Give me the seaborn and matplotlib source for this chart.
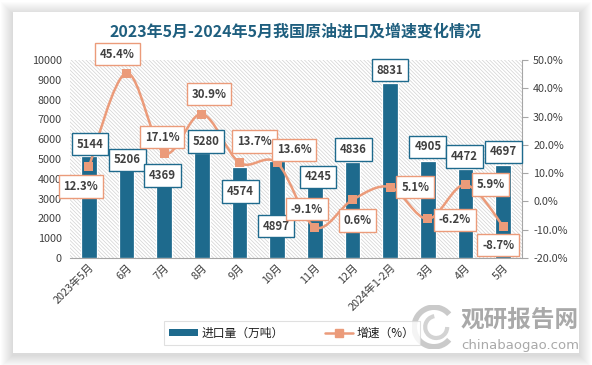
import numpy as np
import pandas as pd
import matplotlib
matplotlib.use("Agg")
import matplotlib.pyplot as plt
from matplotlib.patches import Rectangle, PathPatch, Patch, Arc
from matplotlib.path import Path
from matplotlib.lines import Line2D
import seaborn as sns

# ---------------- data ----------------
categories = ["2023年5月", "6月", "7月", "8月", "9月", "10月", "11月", "12月",
              "2024年1-2月", "3月", "4月", "5月"]
import_volume = [5144, 5206, 4369, 5280, 4574, 4897, 4245, 4836, 8831, 4905, 4472, 4697]
growth_rate = [12.3, 45.4, 17.1, 30.9, 13.7, 13.6, -9.1, 0.6, 5.1, -6.2, 5.9, -8.7]

title = "2023年5月-2024年5月我国原油进口及增速变化情况"
bar_name = "进口量（万吨）"
line_name = "增速（%）"

# label placement (pixel offsets, layout only)
bar_lab_dx = [1, 1, -2, 4, 1, -1, 3, 1, 0, 0, -1, 0]
bar_lab_dy = [12, -5, -4, 12, -24, -65, -3, 13, 13, 14, 13, 13]
pct_lab_dx = [-8, -9, -2, 7, 15, 17, -8, 5, 25, 27, 25, -5]
pct_lab_dy = [-20, 19, 16, 20, 21, 13, 18, -21, 0, -1, 0, -19]

BAR_C = "#1e6a8d"
LINE_C = "#eb9b7a"
TXT_C = "#404040"

sns.set_style("white")
plt.rcParams["font.family"] = ["Noto Sans CJK SC", "DejaVu Sans"]
plt.rcParams["hatch.linewidth"] = 0.5
plt.rcParams["axes.unicode_minus"] = False

W, H = 592, 365
fig = plt.figure(figsize=(W / 100, H / 100), dpi=100, facecolor="white")

# card with soft shadow
cx0, cy0, cx1, cy1 = 13, 12, 579, 353
for k in range(12, 0, -1):
    fig.patches.append(Rectangle(((cx0 - k) / W, 1 - (cy1 + k + 2) / H),
                                 (cx1 - cx0 + 2 * k) / W, (cy1 - cy0 + 2 * k) / H,
                                 transform=fig.transFigure, facecolor="#808080",
                                 alpha=0.022, lw=0, zorder=-20))
fig.patches.append(Rectangle((cx0 / W, 1 - cy1 / H), (cx1 - cx0) / W, (cy1 - cy0) / H,
                             transform=fig.transFigure, facecolor="white", lw=0, zorder=-10))

ax = fig.add_axes([70 / W, 1 - 258 / H, 452 / W, 198 / H])
ax.patch.set_visible(False)
ax.add_patch(Rectangle((0, 0), 1, 1, transform=ax.transAxes, facecolor="white",
                       edgecolor="#d2d2d2", hatch="\\" * 9, lw=0, zorder=0))

df = pd.DataFrame({"cat": categories, "vol": import_volume, "rate": growth_rate})
sns.barplot(data=df, x="cat", y="vol", color=BAR_C, width=0.42, edgecolor="white",
            linewidth=0.9, saturation=1, ax=ax, zorder=2)
ax.set_ylim(0, 10000)
ax.set_yticks(np.arange(0, 10001, 1000))
ax.set_xlim(-0.5, len(categories) - 0.5)
ax.set_xlabel("")
ax.set_ylabel("")
for s in ["top", "left", "right"]:
    ax.spines[s].set_visible(False)
ax.spines["bottom"].set_color("#a6a6a6")
ax.tick_params(axis="y", length=0, labelsize=7.8, labelcolor=TXT_C, pad=6)
ax.tick_params(axis="x", length=0, labelsize=7.8, labelcolor=TXT_C, pad=3)
plt.setp(ax.get_xticklabels(), rotation=45, ha="right", rotation_mode="anchor")

ax2 = ax.twinx()
ax2.set_ylim(-20, 50)
ax2.set_yticks(np.arange(-20, 51, 10))
ax2.yaxis.set_major_formatter(matplotlib.ticker.FuncFormatter(lambda v, p: f"{v:.1f}%"))
for s in ["top", "left", "bottom"]:
    ax2.spines[s].set_visible(False)
ax2.spines["right"].set_color("#a6a6a6")
ax2.tick_params(axis="y", length=4, color="#a6a6a6", labelsize=7.8, labelcolor=TXT_C, pad=4)

# smoothed line (Bezier rendering through the data points)
xs = np.arange(len(growth_rate), dtype=float)
ys = np.array(growth_rate, dtype=float)
pts = np.column_stack([xs, ys])
verts = [pts[0]]
codes = [Path.MOVETO]
n = len(pts)
for i in range(n - 1):
    p0 = pts[i - 1] if i > 0 else pts[i]
    p1 = pts[i]
    p2 = pts[i + 1]
    p3 = pts[i + 2] if i + 2 < n else pts[i + 1]
    c1 = p1 + (p2 - p0) / 6.0
    c2 = p2 - (p3 - p1) / 6.0
    verts += [c1, c2, p2]
    codes += [Path.CURVE4] * 3
ax2.add_patch(PathPatch(Path(verts, codes), facecolor="none", edgecolor=LINE_C,
                        lw=1.8, zorder=3))
sns.scatterplot(x=xs, y=ys, marker="s", s=42, color=LINE_C, edgecolor="none",
                ax=ax2, zorder=4, legend=False)
ax2.set_xlim(-0.5, len(categories) - 0.5)

# labels
for i, v in enumerate(import_volume):
    ax2.annotate(f"{v}", xy=(i, v), xycoords=ax.transData,
                 xytext=(bar_lab_dx[i], bar_lab_dy[i]), textcoords="offset pixels",
                 ha="center", va="center", fontsize=8.2, fontweight="bold",
                 color=TXT_C, zorder=6,
                 bbox=dict(boxstyle="square,pad=0.42", fc="white", ec=BAR_C, lw=1.0))
for i, v in enumerate(growth_rate):
    ax2.annotate(f"{v:.1f}%", xy=(i, v), xycoords="data",
                 xytext=(pct_lab_dx[i], pct_lab_dy[i]), textcoords="offset pixels",
                 ha="center", va="center", fontsize=8.2, fontweight="bold",
                 color=TXT_C, zorder=6,
                 bbox=dict(boxstyle="square,pad=0.42", fc="white", ec=LINE_C, lw=1.0))

# title
fig.text(0.5, 1 - 32 / H, title, ha="center", va="center", fontsize=11.5,
         fontweight="bold", color="#1f5f7f")

# legend
handles = [Patch(facecolor=BAR_C, edgecolor="none"),
           Line2D([], [], color=LINE_C, lw=1.8, marker="s", markersize=5.5)]
leg = fig.legend(handles, [bar_name, line_name], ncol=2, loc="center",
                 bbox_to_anchor=(292 / W, 1 - 333 / H), frameon=True, fancybox=False,
                 edgecolor="#d9d9d9", fontsize=8.5, handlelength=2.4, handleheight=0.5,
                 columnspacing=3.5, borderpad=0.45, handletextpad=0.3)
leg.get_frame().set_linewidth(0.8)
for t in leg.get_texts():
    t.set_color("#202020")

# watermark
fig.text(520 / W, 1 - 320 / H, "观研报告网", ha="center", va="center", fontsize=17,
         fontweight="bold", color="#9a9a9a", alpha=0.85, zorder=10)
fig.text(520 / W, 1 - 345 / H, "chinabaogao.com", ha="center", va="center", fontsize=9.5,
         color="#9a9a9a", alpha=0.85, family="DejaVu Sans", zorder=10)
wm = fig.add_axes([412 / W, 1 - 352 / H, 44 / W, 50 / H])
wm.set_xlim(-1, 1)
wm.set_ylim(-1, 1)
wm.set_aspect("equal")
wm.axis("off")
wm.add_patch(Arc((0, 0), 1.8, 1.8, theta1=40, theta2=320, lw=4, color="#bdbdbd", alpha=0.8))
wm.add_patch(Arc((0.1, 0), 1.0, 1.0, theta1=100, theta2=360, lw=3, color="#c8c8c8", alpha=0.8))

fig.savefig("out.png", dpi=100, facecolor="white")
